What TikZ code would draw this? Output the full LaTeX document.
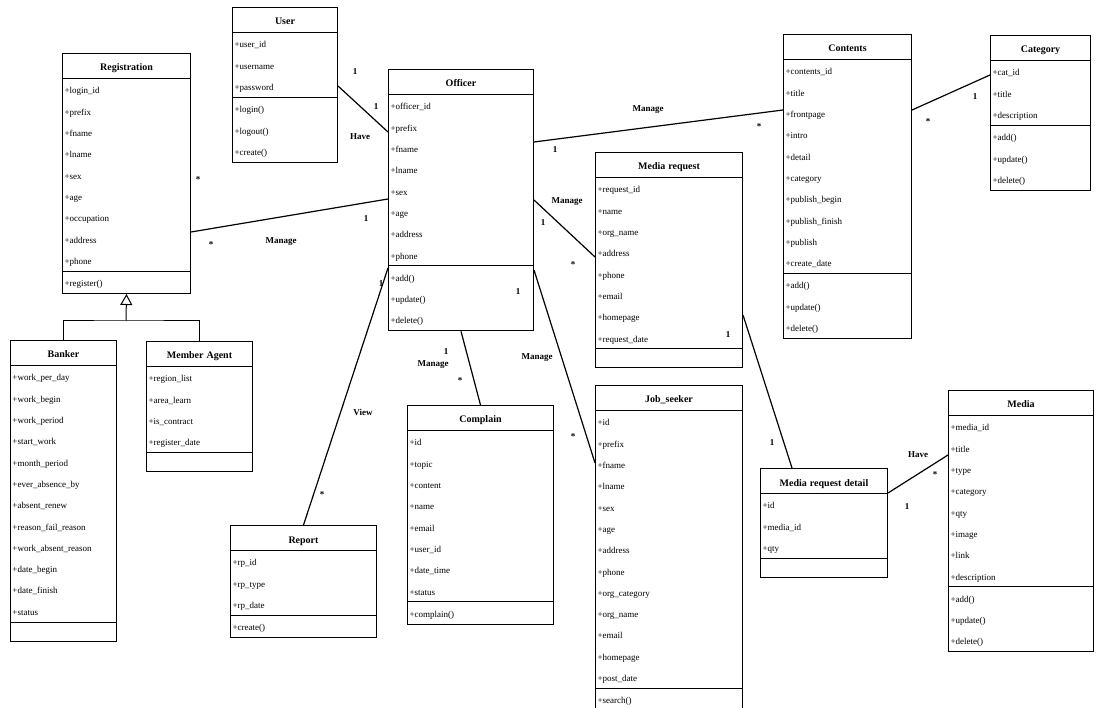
\documentclass[tikz,border=0pt]{standalone}
\usepackage{fontspec}
\setmainfont{Liberation Serif}
\usetikzlibrary{shapes.multipart,arrows.meta}
\newcommand{\clshead}[1]{\rule[-7pt]{0pt}{24pt}\makebox[\linewidth][c]{\bfseries\fontsize{10}{12}\selectfont#1}}
\newcommand{\noops}{\rule{0pt}{18pt}}

\begin{document}
\begin{tikzpicture}[
	x=1pt, y=-1pt,
	umlclass/.style = {draw, line width=1pt, rectangle split, rectangle split parts=3,
		anchor=north west, inner xsep=2pt, inner ysep=0pt, align=left,
		font=\fontsize{9}{21.3}\selectfont},
	assoc/.style = {line width=1.2pt},
	mult/.style = {font=\bfseries\fontsize{9}{10}\selectfont, inner sep=0pt},
	]
	\useasboundingbox (0,0) rectangle (1098,708);

	% classes
	\node[umlclass, text width=124pt] (registration) at (62,53) {\clshead{Registration}
		\nodepart{second}\strut+login\_id\\+prefix\\+fname\\+lname\\+sex\\+age\\+occupation\\+address\\+phone\strut
		\nodepart{third}\strut+register()\strut};
	\node[umlclass, text width=101pt] (user) at (232,7) {\clshead{User}
		\nodepart{second}\strut+user\_id\\+username\\+password\strut
		\nodepart{third}\strut+login()\\+logout()\\+create()\strut};
	\node[umlclass, text width=141pt] (officer) at (388,69) {\clshead{Officer}
		\nodepart{second}\strut+officer\_id\\+prefix\\+fname\\+lname\\+sex\\+age\\+address\\+phone\strut
		\nodepart{third}\strut+add()\\+update()\\+delete()\strut};
	\node[umlclass, text width=124pt] (contents) at (783,34) {\clshead{Contents}
		\nodepart{second}\strut+contents\_id\\+title\\+frontpage\\+intro\\+detail\\+category\\+publish\_begin\\+publish\_finish\\+publish\\+create\_date\strut
		\nodepart{third}\strut+add()\\+update()\\+delete()\strut};
	\node[umlclass, text width=96pt] (category) at (990,35) {\clshead{Category}
		\nodepart{second}\strut+cat\_id\\+title\\+description\strut
		\nodepart{third}\strut+add()\\+update()\\+delete()\strut};
	\node[umlclass, text width=143pt] (mediareq) at (595,152) {\clshead{Media request}
		\nodepart{second}\strut+request\_id\\+name\\+org\_name\\+address\\+phone\\+email\\+homepage\\+request\_date\strut
		\nodepart{third}\noops};
	\node[umlclass, text width=102pt] (banker) at (10,340) {\clshead{Banker}
		\nodepart{second}\strut+work\_per\_day\\+work\_begin\\+work\_period\\+start\_work\\+month\_period\\+ever\_absence\_by\\+absent\_renew\\+reason\_fail\_reason\\+work\_absent\_reason\\+date\_begin\\+date\_finish\\+status\strut
		\nodepart{third}\noops};
	\node[umlclass, text width=102pt] (member) at (146,341) {\clshead{Member Agent}
		\nodepart{second}\strut+region\_list\\+area\_learn\\+is\_contract\\+register\_date\strut
		\nodepart{third}\noops};
	\node[umlclass, text width=142pt] (report) at (230,525) {\clshead{Report}
		\nodepart{second}\strut+rp\_id\\+rp\_type\\+rp\_date\strut
		\nodepart{third}\strut+create()\strut};
	\node[umlclass, text width=142pt] (complain) at (407,405) {\clshead{Complain}
		\nodepart{second}\strut+id\\+topic\\+content\\+name\\+email\\+user\_id\\+date\_time\\+status\strut
		\nodepart{third}\strut+complain()\strut};
	\node[umlclass, text width=143pt] (jobseeker) at (595,385) {\clshead{Job\_seeker}
		\nodepart{second}\strut+id\\+prefix\\+fname\\+lname\\+sex\\+age\\+address\\+phone\\+org\_category\\+org\_name\\+email\\+homepage\\+post\_date\strut
		\nodepart{third}\strut+search()\strut};
	\node[umlclass, text width=123pt] (mrdetail) at (760,468) {\clshead{Media request detail}
		\nodepart{second}\strut+id\\+media\_id\\+qty\strut
		\nodepart{third}\noops};
	\node[umlclass, text width=141pt] (media) at (948,390) {\clshead{Media}
		\nodepart{second}\strut+media\_id\\+title\\+type\\+category\\+qty\\+image\\+link\\+description\strut
		\nodepart{third}\strut+add()\\+update()\\+delete()\strut};

	% generalization
	\coordinate (split) at (126,321);
	\draw[line width=1pt] (banker.north) |- (split) -| (member.north);
	\draw[line width=1pt, -{Triangle[open, width=12pt, length=11pt]}] (split) -- (registration.south);

	% associations
	\draw[assoc] ([yshift=-79pt]user.north east) -- ([yshift=-63pt]officer.north west);
	\node[mult] (u1) at (355,72) {1};
	\node[mult] (u2) at (376,107) {1};
	\node[mult] (have1) at (360,137) {Have};

	\draw[assoc] ([yshift=-179pt]registration.north east) -- ([yshift=-130pt]officer.north west);
	\node[mult] (r0) at (198,180) {*};
	\node[mult] (r1) at (211,245) {*};
	\node[mult] (manage1) at (281,242) {Manage};
	\node[mult] (r2) at (366,219) {1};

	\draw[assoc] ([yshift=-73pt]officer.north east) -- ([yshift=-76pt]contents.north west);
	\node[mult] (manage2) at (648,110) {Manage};
	\node[mult] (c1) at (555,150) {1};
	\node[mult] (c2) at (759,127) {*};

	\draw[assoc] ([yshift=-131pt]officer.north east) -- ([yshift=-105pt]mediareq.north west);
	\node[mult] (manage3) at (567,202) {Manage};
	\node[mult] (q1) at (543,223) {1};
	\node[mult] (q2) at (573,265) {*};

	\draw[assoc] ([yshift=-199pt]officer.north west) -- (report.north);
	\node[mult] (view) at (363,412) {View};
	\node[mult] (v1) at (381,284) {1};
	\node[mult] (v2) at (322,495) {*};

	\draw[assoc] (officer.south) -- (complain.north);
	\node[mult] (k1) at (446,352) {1};
	\node[mult] (manage4) at (433,365) {Manage};
	\node[mult] (k2) at (460,381) {*};

	\draw[assoc] ([yshift=-201pt]officer.north east) -- ([yshift=-78pt]jobseeker.north west);
	\node[mult] (manage5) at (537,358) {Manage};
	\node[mult] (j1) at (518,292) {1};
	\node[mult] (j2) at (573,437) {*};

	\draw[assoc] ([yshift=-163pt]mediareq.north east) -- ([xshift=32pt]mrdetail.north west);
	\node[mult] (d1) at (728,335) {1};
	\node[mult] (d2) at (772,443) {1};

	\draw[assoc] ([yshift=-25pt]mrdetail.north east) -- ([yshift=-65pt]media.north west);
	\node[mult] (have2) at (918,455) {Have};
	\node[mult] (e1) at (935,475) {*};
	\node[mult] (e2) at (907,507) {1};

	\draw[assoc] ([yshift=-76pt]contents.north east) -- ([yshift=-40pt]category.north west);
	\node[mult] (g1) at (975,97) {1};
	\node[mult] (g2) at (928,122) {*};
\end{tikzpicture}
\end{document}
